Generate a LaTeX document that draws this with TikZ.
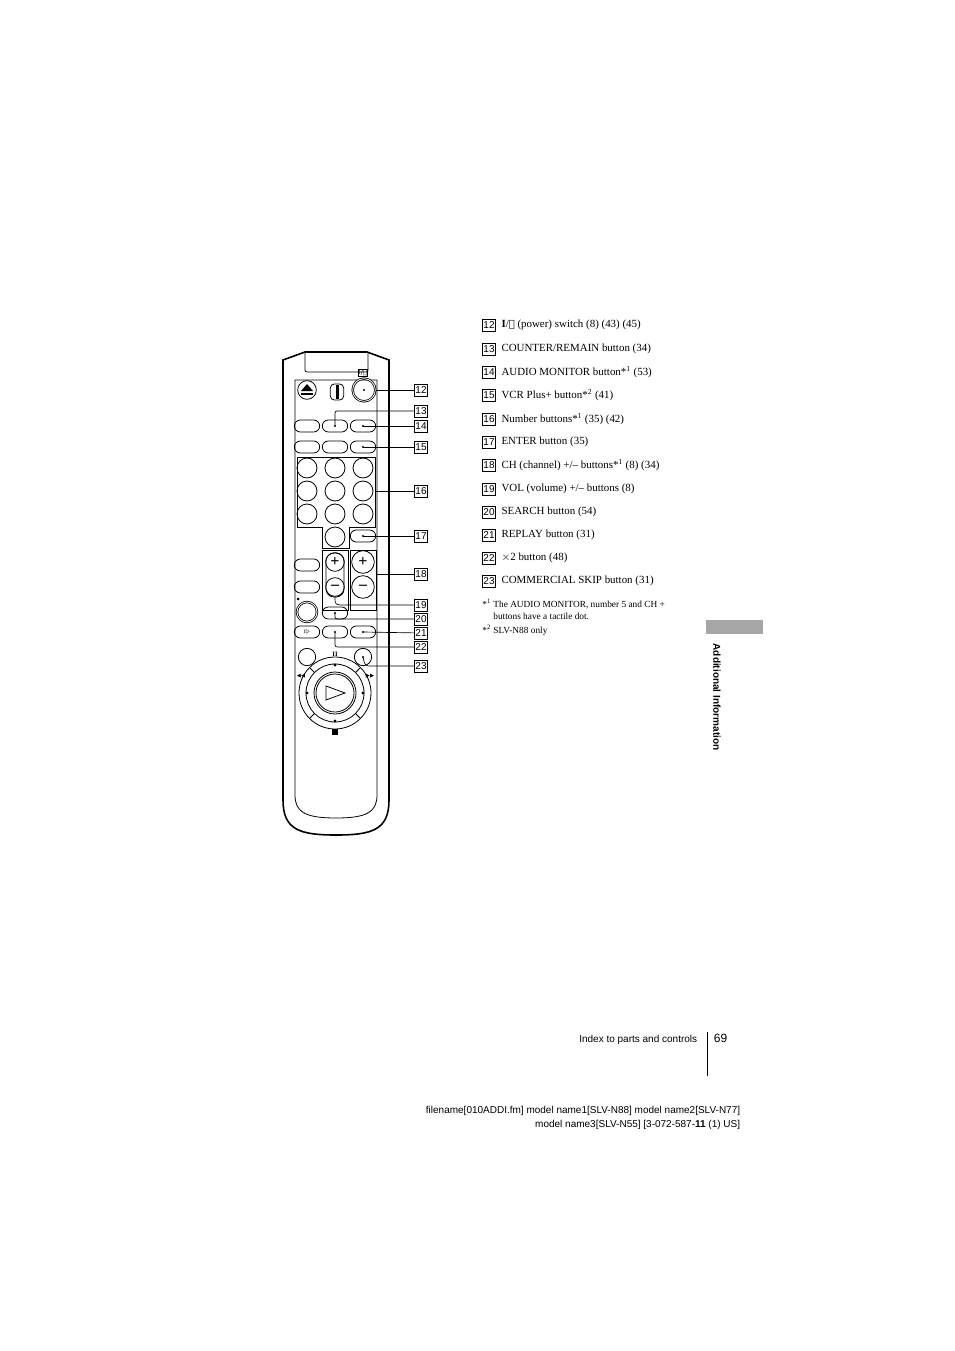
\documentclass[tikz,border=0pt]{standalone}
\usepackage{fontspec}
\setmainfont{Liberation Serif}
\setsansfont{Liberation Sans}
\newfontfamily\symfont{DejaVu Sans}
\usetikzlibrary{positioning}
\tikzset{
    numbox/.style={draw, fill=white, inner sep=0.6pt, minimum width=9pt, minimum height=9pt, font=\sffamily\fontsize{7.5}{8}\selectfont},
    oval/.style={draw, rounded corners=4.5pt, minimum width=19pt, minimum height=9pt, inner sep=0pt},
    rbtn/.style={draw, circle, minimum size=15pt, inner sep=0pt},
    leader/.style={line width=0.5pt},
    item/.style={anchor=west, font=\fontsize{8.2}{9}\selectfont, inner sep=0pt},
    tip/.style={fill, circle, inner sep=0.5pt}
}
\begin{document}
\begin{tikzpicture}[x=0.75pt, y=-0.75pt, line width=0.6pt]
    \useasboundingbox (0,0) rectangle (954,1351);
    % remote body
    \draw[line width=1.2pt] (305,352) -- (283,360) -- (283,800) .. controls (283,830) and (300,835) .. (336,835)
        .. controls (372,835) and (389,830) .. (389,800) -- (389,360) -- (367,352) -- cycle;
    \draw (305,352) -- (305,368) .. controls (305,372) .. (310,372) -- (364,372) .. controls (368,372) .. (368,368) -- (368,352);
    \draw (295,380) -- (295,795) .. controls (295,812) and (305,818) .. (336,818)
        .. controls (367,818) and (377,812) .. (377,795) -- (377,380) -- cycle;
    % top row
    \node[rbtn, minimum size=14pt] (eject) at (307,390) {};
    \fill (301,393) rectangle (313,395);
    \fill (301,391) -- (313,391) -- (307,384) -- cycle;
    \node[draw, rounded corners=3pt, minimum width=10pt, minimum height=12pt, inner sep=0pt] (sw) at (337,392) {};
    \fill (336,385) rectangle (339,399);
    \node[rbtn, minimum size=17pt, double] (power) at (364,390) {};
    \node[draw, inner sep=0.5pt, font=\symfont\fontsize{5}{5}\selectfont] (plbl) at (363,373) {I/⏻};
    % oval rows
    \foreach \x/\n in {307/a,335/b,363/c}{
        \node[oval] (r1\n) at (\x,426) {};
        \node[oval] (r2\n) at (\x,447) {};
    }
    % number pad
    \draw (297,457) -- (375,457) -- (375,527) -- (349,527) -- (349,548) -- (322,548) -- (322,527) -- (297,527) -- cycle;
    \foreach \y/\r in {468/1,491/2,514/3}
        \foreach \x/\c in {307/1,335/2,363/3}
            \node[rbtn] (n\r\c) at (\x,\y) {};
    \node[rbtn] (n0) at (335,537) {};
    \node[oval] (enter) at (363,536) {};
    % vol / ch
    \draw (322,550) rectangle (348,610);
    \draw (350,550) rectangle (376,610);
    \draw[rounded corners=6pt] (326,553) rectangle (344,597);
    \node[draw, circle, minimum size=14pt, inner sep=0pt, font=\bfseries\large] (volp) at (335,562) {+};
    \node[draw, circle, minimum size=14pt, inner sep=0pt, font=\bfseries\large] (volm) at (335,587) {--};
    \node[draw, circle, minimum size=17pt, inner sep=0pt, font=\bfseries\large] (chp) at (363,562) {+};
    \node[draw, circle, minimum size=17pt, inner sep=0pt, font=\bfseries\large] (chm) at (363,587) {--};
    \node[oval] (l1) at (307,565) {};
    \node[oval] (l2) at (307,587) {};
    % lower buttons
    \node[rbtn, double] (rec) at (307,612) {};
    \fill (298,599) circle (1.5);
    \node[oval] (search) at (335,613) {};
    \node[oval, font=\fontsize{4}{4}\selectfont] (slow) at (307,632) {I$\triangleright$};
    \node[oval] (x2) at (335,632) {};
    \node[oval] (replay) at (363,632) {};
    \node[rbtn, minimum size=13pt] (b1) at (307,657) {};
    \node[rbtn, minimum size=13pt] (skip) at (363,657) {};
    % jog dial
    \draw (335,693) circle (36);
    \draw (335,693) circle (29);
    \draw (335,693) circle (21);
    \draw (335,693) circle (19);
    \foreach \a in {45,135,225,315}
        \draw ([shift={(\a:29)}]335,693) -- ([shift={(\a:36)}]335,693);
    \draw (326,686) -- (345,693) -- (326,700) -- cycle;
    \foreach \p in {{335,665},{335,721},{307,693},{363,693}}
        \fill (\p) circle (1.6);
    \node[font=\fontsize{5}{5}\selectfont\bfseries] at (335,654) {II};
    \fill (332,729) rectangle (338,735);
    \node[font=\symfont\fontsize{4}{4}\selectfont] at (301,676) {◀◀};
    \node[font=\symfont\fontsize{4}{4}\selectfont] at (370,676) {▶▶};
    % callout numbers
    \foreach \y/\t in {390/12,411/13,426/14,447/15,491/16,536/17,574/18,605/19,619/20,633/21,647/22,666/23}
        \node[numbox] (c\t) at (421,\y) {\t};
    \foreach \p in {power,r1b,r1c,r2c,enter,search,x2,replay,skip} \fill (\p) circle (1.2);
    \draw[leader] (power) -- (c12);
    \draw[leader] (r1b.center) -- (335,415) .. controls (335,411) .. (340,411) -- (c13);
    \draw[leader] (r1c.center) -- (c14);
    \draw[leader] (r2c.center) -- (c15);
    \draw[leader] (375,491) -- (c16);
    \draw[leader] (enter.center) -- (c17);
    \draw[leader] (376,574) -- (c18);
    \draw[leader] (volm.south) .. controls (335,605) .. (345,605) -- (c19);
    \draw[leader] (search.center) -- (335,615) .. controls (335,619) .. (340,619) -- (c20);
    \draw[leader] (replay.center) -- (c21);
    \draw[leader] (x2.center) -- (335,642) .. controls (335,647) .. (340,647) -- (c22);
    \draw[leader] (skip.center) .. controls (365,666) .. (372,666) -- (c23);
    % item list
    \foreach \y/\t/\s in {
        325/12/{\textbf{I}/{\symfont\fontsize{7.5}{8}\selectfont ⏻} (power) switch (8) (43) (45)},
        349/13/{COUNTER/REMAIN button (34)},
        372/14/{AUDIO MONITOR button*\textsuperscript{1} (53)},
        395/15/{VCR Plus+ button*\textsuperscript{2} (41)},
        419/16/{Number buttons*\textsuperscript{1} (35) (42)},
        442/17/{ENTER button (35)},
        465/18/{CH (channel) +/-- buttons*\textsuperscript{1} (8) (34)},
        489/19/{VOL (volume) +/-- buttons (8)},
        512/20/{SEARCH button (54)},
        535/21/{REPLAY button (31)},
        558/22/{$\times$2 button (48)},
        581/23/{COMMERCIAL SKIP button (31)}}{
        \node[numbox] (i\t) at (489,\y) {\t};
        \node[item, right=4pt of i\t.east, anchor=west] (t\t) {\s};
    }
    \node[item, font=\fontsize{7}{8}\selectfont] (fn1) at (482,604) {*\textsuperscript{1} The AUDIO MONITOR, number 5 and CH +};
    \node[item, font=\fontsize{7}{8}\selectfont] (fn1b) at (493,616) {buttons have a tactile dot.};
    \node[item, font=\fontsize{7}{8}\selectfont] (fn2) at (482,630) {*\textsuperscript{2} SLV-N88 only};
    % side tab
    \fill[gray!70] (706,620) rectangle (763,634);
    \node[rotate=-90, font=\sffamily\bfseries\fontsize{7.5}{8}\selectfont] (side) at (717,697) {Additional Information};
    % footer
    \draw (707,1032) -- (707,1076);
    \node[anchor=east, font=\sffamily\fontsize{7.5}{8}\selectfont] (idx) at (702,1040) {Index to parts and controls};
    \node[anchor=west, font=\sffamily\fontsize{9}{10}\selectfont] (pg) at (709,1038) {69};
    \node[anchor=east, font=\sffamily\fontsize{7.5}{8}\selectfont] (f1) at (745,1111) {filename[010ADDI.fm] model name1[SLV-N88] model name2[SLV-N77]};
    \node[anchor=east, font=\sffamily\fontsize{7.5}{8}\selectfont] (f2) at (745,1125) {model name3[SLV-N55] [3-072-587-\textbf{11} (1) US]};
\end{tikzpicture}
\end{document}
